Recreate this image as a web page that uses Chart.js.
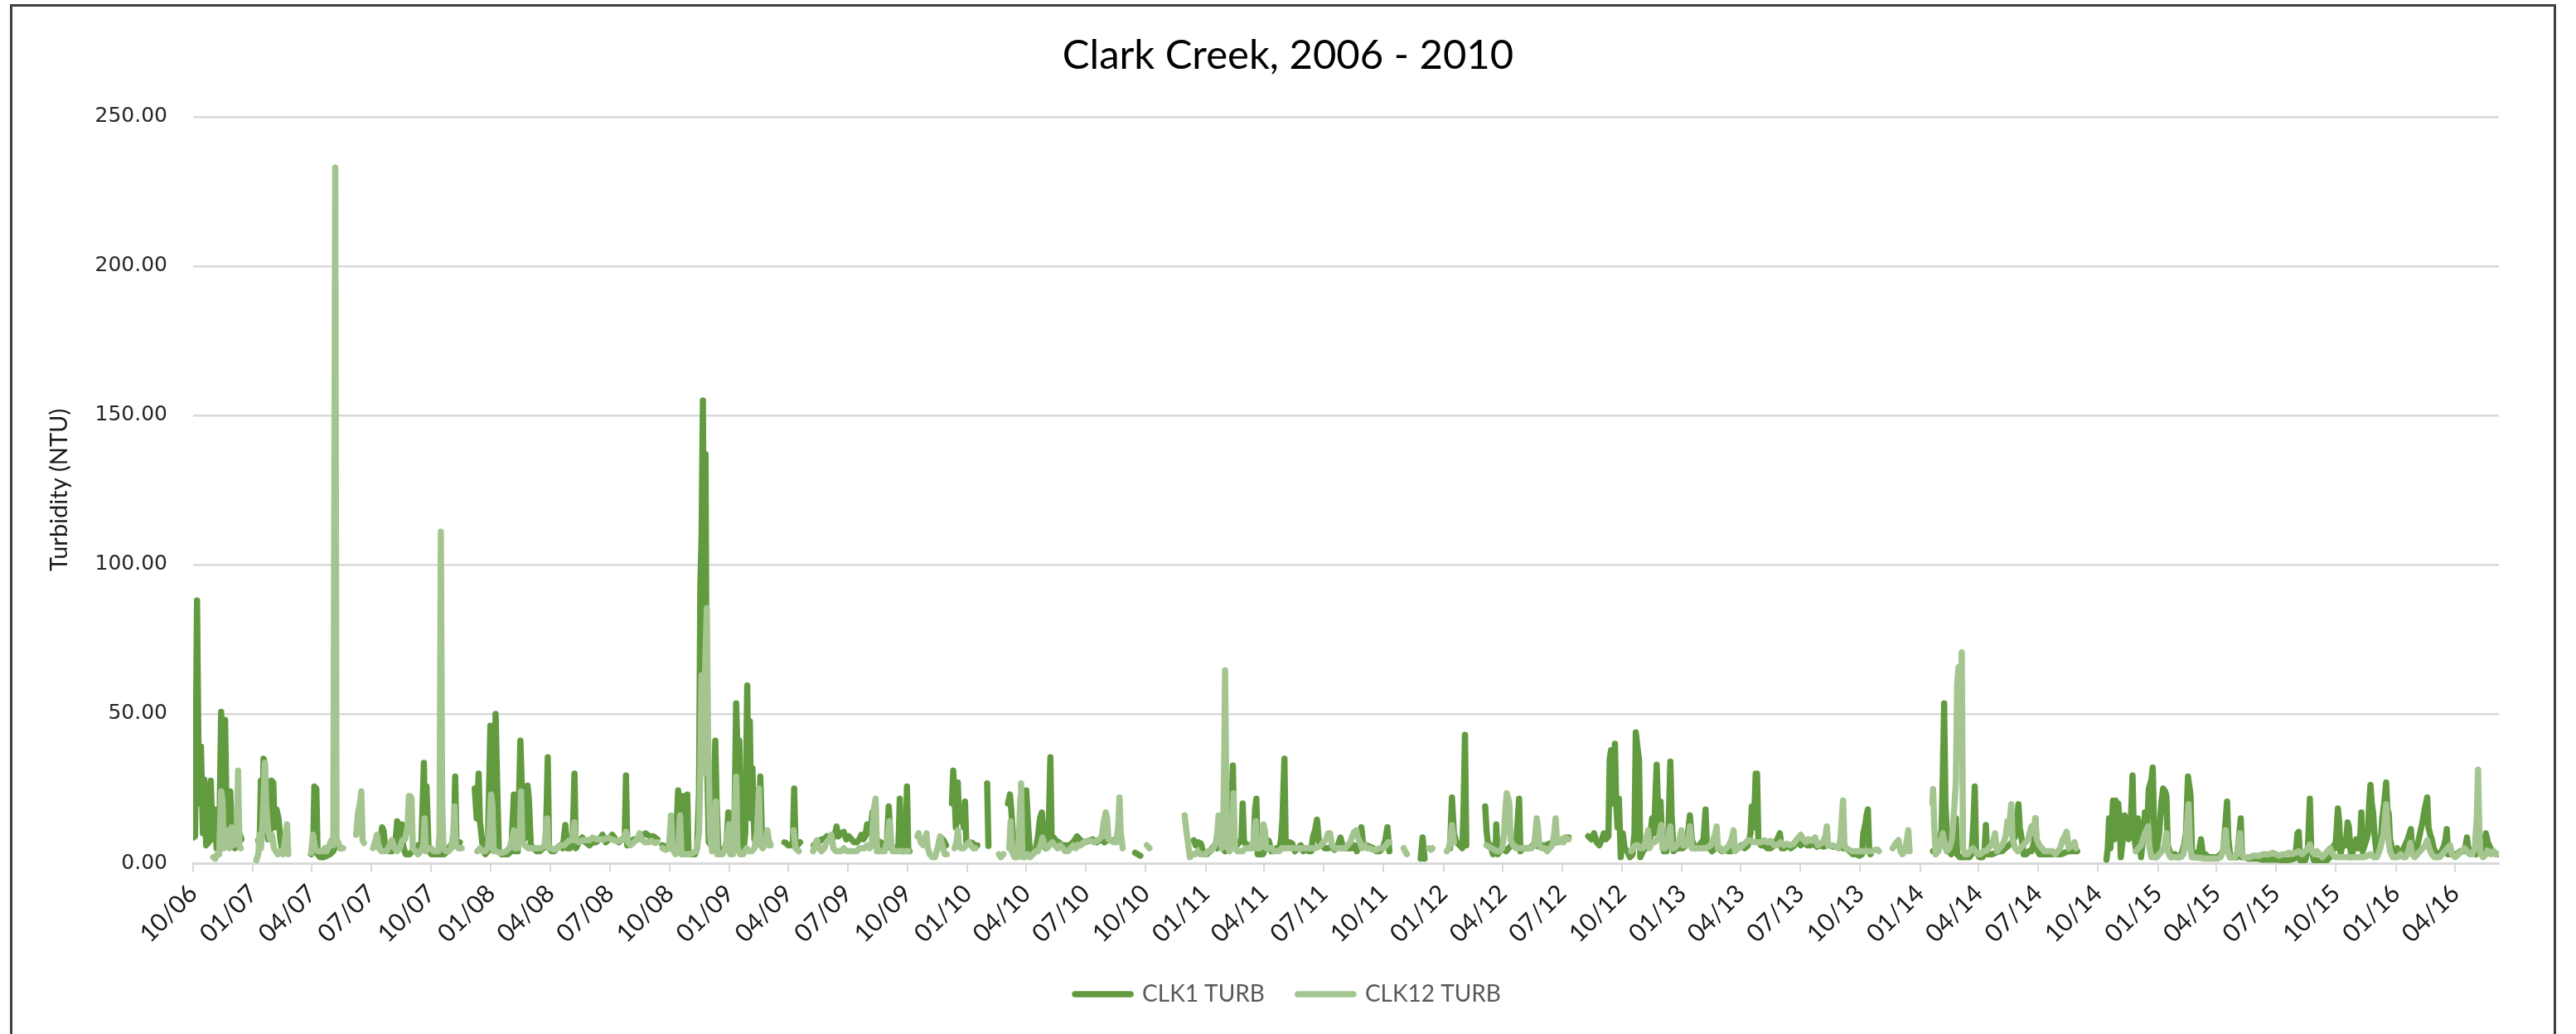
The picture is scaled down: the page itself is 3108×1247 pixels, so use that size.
<!DOCTYPE html>
<html>
<head>
<meta charset="utf-8">
<title>Clark Creek turbidity</title>
<script src="https://cdn.jsdelivr.net/npm/chart.js@4.4.1/dist/chart.umd.min.js"></script>
<style>
  html, body { margin: 0; padding: 0; background: #fff; overflow: hidden; }
  #wrap { position: relative; width: 3108px; height: 1247px; }
  #turbChart { display: block; }
  /* chart outline, bottom edge runs off the page like the screenshot */
  #frame { position: absolute; left: 12px; top: 5px; width: 3066px; height: 1300px; border: 3px solid #404040; pointer-events: none; }
</style>
</head>
<body>
<div id="wrap">
  <canvas id="turbChart" width="3108" height="1247"></canvas>
  <div id="frame"></div>
</div>
<script>
const START = Date.UTC(2006, 9, 1); // day 0 = 1 Oct 2006
const DAY = 86400000;

const chartTitle = 'Clark Creek, 2006 - 2010';
const yTitle = 'Turbidity (NTU)';
const seriesNames = ['CLK1 TURB', 'CLK12 TURB'];
const seriesColors = ['#629B3F', '#A4C590'];
const tickLabels = ['10/06', '01/07', '04/07', '07/07', '10/07', '01/08', '04/08', '07/08', '10/08',
  '01/09', '04/09', '07/09', '10/09', '01/10', '04/10', '07/10', '10/10', '01/11', '04/11', '07/11',
  '10/11', '01/12', '04/12', '07/12', '10/12', '01/13', '04/13', '07/13', '10/13', '01/14', '04/14',
  '07/14', '10/14', '01/15', '04/15', '07/15', '10/15', '01/16', '04/16'];
const yMax = 250;
const yStep = 50;

// [days since 1 Oct 2006, NTU], null = no readings (line breaks)
const clk1 = [
  [0,8.6],[3,9],[6,88],[9,20],[12,39],[15,10],[17,28],[20,6],[24,7],[27,27.6],[30,8],[33,18],[36,5],[40,6],
  [43,50.7],[46,10],[49,48],[52,8],[55,6],[57,24],[60,7],[64,5],[68,6],[71,10],[74,8],[78,null],
  [100,7.7],[102,6],[104,27.6],[106,10],[108,35],[110,33.6],[112,12],[115,8],[118,10],[120,27.6],[123,27],
  [125,12],[128,18],[131,15],[134,7.7],[136,5],[160,null],
  [181,3],[184,4],[186,25.7],[189,25],[191,3],[195,2],[200,2],[205,2.5],[210,3],[215,4],[219,6],[223,6],[226,5],[250,null],
  [284,6],[288,9],[290,12],[292,11],[295,5],[300,4],[305,4],[310,6],[313,14],[316,6],[320,13],[322,6],[326,3],
  [332,3],[336,4],[340,4],[345,6],[350,5],[354,33.6],[356,8],[358,25.7],[361,6],[365,3],[370,3],[375,3],[380,3],
  [385,3],[390,4],[395,6],[400,6],[402,29],[404,7],[407,6],[409,7],[420,null],
  [432,25],[435,15],[438,30],[440,14],[444,6],[448,3],[452,4],[456,46],[459,8],[462,10],[464,50],[467,20.6],
  [469,4],[473,3],[478,3],[483,3],[488,4],[492,23],[494,4],[498,4],[502,41],[505,20],[508,8],[511,10],[513,26],
  [515,21.6],[518,6],[522,5],[527,4],[532,4],[537,5],[541,6],[544,35.5],[546,5],[550,4],[554,4],[558,5],[563,6],
  [567,5],[571,12.8],[574,5],[578,5],[582,6],[585,30],[587,5],[592,7],[597,8.6],[602,7],[608,6],[613,7],[618,7],
  [623,8],[628,9.5],[633,7],[638,8],[643,9.5],[648,8],[653,7],[658,8],[662,8],[664,29.4],[666,6],[670,7],[676,8],
  [682,8],[688,9],[694,10],[700,9],[706,9],[712,8],[716,null],
  [720,6],[725,5.5],[730,5],[735,5],[740,4],[744,24.4],[747,5],[750,22.5],[752,3],[755,4],[758,23],[760,3],[765,3],
  [770,3],[773,5],[776,23.4],[778,92],[780,110],[782,155],[784,60],[786,137],[788,40],[791,7],[795,6],[798,10],
  [801,41],[803,20.6],[806,3],[810,4],[815,5],[818,6],[821,17],[823,4],[827,5],[830,8],[833,53.5],[836,30],[838,41],
  [840,4],[844,4],[847,10],[850,59.5],[852,20],[854,47.5],[856,15],[858,31.8],[861,8],[865,7],[868,10],[870,29],
  [873,7],[877,7],[881,8],[884,7],[895,null],
  [907,7],[909,6.8],[913,6],[917,6],[920,7],[922,25],[924,7],[927,6],[931,7],[940,null],
  [952,6],[956,7],[960,7],[964,8],[968,8],[972,9],[976,8],[980,8],[984,9],[987,12.3],[990,9],[994,10],[998,10.5],
  [1002,8],[1006,9],[1010,8],[1014,7],[1018,7],[1022,8],[1025,9.5],[1028,8],[1031,9],[1034,13],[1037,10],[1040,12],
  [1042,17],[1045,7],[1050,7.5],[1055,7],[1060,5],[1064,6],[1067,19],[1069,12],[1071,5],[1075,5],[1079,5],[1082,6],
  [1084,21.6],[1086,5],[1090,4],[1093,6],[1095,25.7],[1097,4],[1099,4],[1120,null],
  [1147,8.6],[1151,7.7],[1155,6],[1161,null],
  [1164,20],[1166,31],[1168,23],[1170,12],[1173,27],[1175,14],[1177,15],[1180,15],[1182,12],[1184,20.6],[1186,7],
  [1190,7],[1195,6.8],[1199,6],[1203,6],[1210,null],
  [1218,26.7],[1220,5.8],[1235,null],
  [1250,20],[1253,23],[1255,18],[1258,8],[1262,3],[1266,3],[1270,3],[1274,4],[1276,12],[1278,24.4],[1281,12],[1284,3],
  [1288,3],[1292,4],[1296,9],[1299,15],[1302,17],[1305,8],[1308,5],[1312,7],[1315,35.5],[1317,7],[1320,8.6],[1324,7.5],
  [1328,7],[1333,6],[1338,6],[1344,6],[1350,7],[1356,9],[1362,7.5],[1368,7],[1374,7.5],[1380,8],[1386,7],[1392,8],
  [1398,7],[1404,8],[1410,7.5],[1416,8],[1420,8],[1424,8],[1435,null],
  [1445,3.5],[1449,3],[1453,2.5],[1500,null],
  [1535,7.7],[1538,6],[1542,7],[1546,6.5],[1550,3],[1555,3],[1560,4],[1563,5],[1567,6],[1571,5],[1575,6],[1579,5],
  [1583,4],[1587,5],[1591,6],[1593,20],[1595,32.7],[1597,6],[1601,6],[1605,7],[1608,8],[1610,20],[1612,7],[1615,6.5],
  [1619,6],[1623,5],[1627,7],[1629,18],[1631,21.6],[1633,3],[1637,3],[1641,3],[1645,5],[1650,7.5],[1654,4],[1658,4],
  [1662,5],[1666,5],[1669,8],[1671,15],[1674,35],[1676,6],[1682,7],[1686,6.5],[1690,4],[1695,5],[1699,6],[1703,4],
  [1707,5],[1711,4],[1715,4],[1718,9],[1721,11],[1724,14.6],[1727,7],[1731,6],[1736,5],[1741,5],[1746,5.5],[1751,4.5],
  [1756,6],[1760,8.6],[1763,6],[1767,5],[1772,5],[1777,5],[1781,6],[1785,4],[1789,6],[1792,12],[1795,6],[1800,6],
  [1805,5.5],[1810,5],[1815,4],[1820,4],[1825,5],[1829,8],[1832,12],[1835,4],[1845,null],
  [1883,1.5],[1886,8.6],[1889,1.5],[1910,null],
  [1928,5],[1931,22],[1934,10],[1938,7],[1943,6],[1947,5],[1949,20],[1951,43],[1953,6],[1965,null],
  [1982,19],[1984,11],[1986,7],[1990,6],[1994,3],[1998,4],[1999,13],[2001,3],[2005,4],[2009,5],[2014,4],[2018,5],
  [2022,6],[2026,7],[2030,8],[2034,21.6],[2036,4],[2040,5],[2045,5],[2050,5],[2055,6],[2060,6],[2065,5.5],[2070,6],
  [2075,6],[2080,6.5],[2085,7],[2090,7],[2095,7.5],[2100,8],[2105,8.6],[2110,8.6],[2125,null],
  [2140,9],[2145,8],[2149,10],[2153,7],[2157,6],[2161,8],[2164,10],[2167,8],[2171,9],[2173,35],[2175,37.8],[2178,20],
  [2181,40],[2183,20],[2185,12],[2187,21.6],[2190,2],[2193,10],[2196,5],[2200,4],[2204,2],[2208,3],[2211,10],
  [2213,43.8],[2216,38],[2218,34.5],[2220,2],[2224,4],[2228,5],[2232,6],[2235,8],[2238,15],[2241,10],[2245,33],
  [2247,19.7],[2249,8],[2251,20.6],[2253,10],[2256,4],[2260,4],[2263,10],[2266,34],[2268,16],[2271,4],[2275,5],
  [2280,5],[2285,5],[2290,6],[2293,10],[2296,16],[2299,8],[2302,6],[2306,5],[2310,6],[2314,7],[2317,8],[2320,18],
  [2322,6],[2326,5],[2330,4],[2335,5],[2340,5],[2345,4],[2350,4.5],[2355,4],[2360,4],[2365,5],[2370,5],[2375,6],
  [2380,5],[2385,6],[2389,10],[2391,19],[2394,12],[2397,30],[2399,30],[2401,8],[2405,6],[2410,6],[2415,5],[2420,5],
  [2425,6],[2430,8],[2434,10],[2437,5],[2441,5],[2446,6],[2451,5],[2456,6],[2461,7],[2466,6],[2471,7],[2476,6],
  [2481,6],[2486,6.5],[2491,5.5],[2496,6],[2501,5.5],[2506,6],[2511,6],[2516,5.5],[2521,5.5],[2526,5.5],[2531,5],
  [2536,5],[2541,4],[2546,3],[2551,3],[2556,2.5],[2560,3],[2562,10],[2565,13],[2567,16],[2569,18],[2571,5],[2573,3],
  [2620,null],
  [2669,4],[2674,4],[2678,5],[2682,11],[2684,30],[2686,53.5],[2688,20],[2690,11],[2693,4],[2697,3],[2701,5],[2704,15],
  [2706,3],[2710,2],[2715,2],[2720,2],[2725,2],[2728,3],[2731,14],[2733,25.7],[2735,4],[2740,2],[2745,2],[2748,4],
  [2750,12.8],[2752,3],[2756,3],[2760,3],[2765,3.5],[2770,4],[2775,4],[2780,5],[2785,6],[2790,7],[2795,9],[2798,15],
  [2800,19.7],[2802,12],[2805,8],[2808,3],[2812,3],[2816,4],[2820,4],[2824,7],[2826,15],[2828,5],[2832,3],[2836,3],
  [2841,3],[2846,3],[2851,3],[2856,3],[2861,3],[2866,3],[2871,3.5],[2876,4],[2881,4],[2886,4],[2890,4],[2910,null],
  [2935,1.2],[2937,5],[2939,15],[2941,5],[2943,12],[2945,21],[2947,8],[2949,21],[2951,10],[2953,20],[2955,15],
  [2957,2],[2960,8],[2963,16],[2966,10],[2969,8],[2972,12],[2975,29.4],[2977,10],[2980,5],[2983,15],[2986,8],[2988,2],
  [2991,8],[2994,17],[2997,10],[3000,25],[3004,28],[3006,32],[3008,12],[3010,2],[3013,6],[3016,10],[3019,20],[3022,25],
  [3025,24],[3027,22.5],[3029,6],[3032,4],[3035,2],[3040,3],[3045,2],[3050,3],[3054,6],[3057,10],[3060,29],[3062,26],
  [3064,22.5],[3066,5],[3069,2],[3073,3],[3077,4],[3080,8],[3083,3],[3087,3],[3091,2],[3095,2],[3100,2],[3105,2],
  [3110,3],[3114,4],[3117,12],[3120,20.6],[3122,8],[3125,2],[3130,2],[3135,2],[3138,8],[3141,15],[3143,2],[3148,2],
  [3153,1.5],[3158,1.5],[3163,1.5],[3168,1.5],[3173,1.2],[3178,1.2],[3183,1.2],[3188,1.2],[3193,1.2],[3198,1.2],
  [3203,1],[3208,1],[3213,1],[3218,1.2],[3223,1.5],[3226,5],[3228,10],[3230,10.5],[3232,1],[3236,1],[3240,1],[3244,5],
  [3247,21.6],[3249,5],[3253,1],[3258,1],[3263,1],[3268,1],[3273,1],[3278,2],[3281,4],[3284,6],[3286,5],[3288,11],
  [3290,18.3],[3292,14],[3294,3],[3296,5],[3299,8],[3302,6],[3305,13.7],[3307,12],[3309,5],[3311,2],[3315,6],[3318,8],
  [3321,5],[3324,8],[3326,17],[3328,4],[3331,6],[3334,8],[3336,10],[3338,20],[3340,26.2],[3342,20],[3344,17],[3346,10],
  [3349,4],[3353,6],[3356,8],[3358,15],[3361,20],[3364,27],[3366,18],[3368,16.5],[3370,8],[3373,5],[3377,4],[3381,5],
  [3385,3],[3389,4],[3393,6],[3397,8],[3400,10],[3402,11.4],[3404,4],[3408,4],[3412,6],[3416,10],[3418,12],[3420,14],
  [3423,18],[3425,20],[3427,22],[3429,12],[3431,10],[3434,8],[3437,5],[3441,3],[3445,3],[3449,4],[3453,6],[3455,8],
  [3457,11.4],[3459,3],[3463,3],[3468,3],[3473,3],[3478,4],[3483,4],[3486,6],[3488,8.6],[3490,5],[3494,4],[3498,4],
  [3502,3],[3506,4],[3510,4],[3514,6],[3517,10],[3520,7],[3524,5],[3528,4],[3532,3],[3537,3]
];

const clk12 = [
  [31,2],[34,1.5],[37,3],[40,3],[43,24],[45,21],[47,5],[50,8],[53,11],[56,5],[59,12],[62,6],[65,9],[67,10],[69,31],
  [71,6],[73,5],[85,null],
  [97,1],[100,3],[102,9.5],[104,5],[107,15],[110,33.6],[112,20],[115,11],[118,8],[121,9.5],[124,5],[127,4],[130,3],
  [134,4],[138,3],[141,8],[144,13],[146,3],[160,null],
  [181,3.5],[184,9.5],[187,5],[191,4],[195,4],[199,4],[202,5],[205,4],[209,6],[212,7.7],[215,6],[217,150],[218,233],
  [220,8],[223,6.8],[226,5],[230,5],[240,null],
  [250,9.5],[253,17],[256,20],[258,24],[260,7.7],[262,6.8],[268,null],
  [276,5],[279,7],[282,9.5],[285,5],[289,4],[293,4],[297,4],[301,6],[305,7.7],[309,5],[313,4],[317,5],[321,7.7],
  [325,8],[329,12],[331,22.5],[333,22.5],[335,21.6],[337,5],[341,4],[345,3],[349,4],[353,6],[355,15],[357,4],[361,5],
  [365,5],[369,4],[373,4],[376,4],[378,10],[380,111],[382,20],[384,5],[388,4],[392,4],[396,5],[399,10],[401,19],
  [403,6],[407,5],[410,5],[412,5],[420,null],
  [436,4],[440,5],[444,4],[448,4],[452,5],[455,12],[457,23],[459,20],[461,4],[465,4],[470,3.5],[475,3.5],[480,4],
  [485,5],[489,7.7],[492,11],[494,5],[498,5],[501,8],[503,24],[505,7],[509,6],[514,5],[519,5],[524,5],[529,5],[534,5],
  [539,6],[543,15],[545,5],[549,5],[554,4.5],[559,5],[564,6],[569,6],[574,7],[578,7.7],[582,7.7],[585,13.7],[587,7.7],
  [592,7],[597,7.7],[603,7.7],[608,7.7],[613,8.6],[618,8],[624,8],[630,8],[636,8.5],[642,8],[648,7.5],[654,7.5],
  [659,8],[664,10.5],[667,7],[671,6],[676,7],[681,8],[685,10],[688,8],[693,7],[698,7],[703,7.5],[708,6.8],[712,7],
  [716,null],
  [720,5],[725,4.5],[730,5],[733,16],[735,5],[740,3],[744,5],[747,16],[749,3],[753,3],[757,3],[762,3],[767,3.5],
  [772,4],[776,10],[778,30],[780,63],[782,30],[784,50],[786,70],[788,85.5],[790,41],[793,10],[796,4],[800,10],
  [802,20.6],[804,3],[808,3],[812,3],[816,5],[820,10],[822,13],[824,3],[828,3],[833,29],[835,5],[839,3],[844,3],
  [849,5],[853,4],[857,4],[861,5],[865,10],[868,25],[870,6],[874,5],[878,7],[881,11],[884,6],[886,6],[900,null],
  [921,11],[924,5],[929,4],[940,null],
  [951,4],[954,6],[957,7.7],[960,5],[964,4],[968,5],[972,7],[976,8],[979,9.5],[982,5],[986,4],[990,4],[994,4],
  [998,5],[1002,4],[1006,4],[1010,4],[1014,4],[1018,4],[1022,5],[1026,5],[1030,5],[1034,6],[1038,5],[1041,6],
  [1044,18],[1047,21.6],[1049,4],[1053,4],[1057,4],[1061,4],[1065,8],[1068,14],[1070,8],[1073,4],[1077,4],[1081,4],
  [1085,4],[1089,4],[1093,4],[1097,4],[1105,null],
  [1111,9],[1113,10],[1116,7],[1120,6],[1123,8],[1125,10],[1127,5],[1130,3],[1134,2],[1138,2],[1142,5],[1146,9],
  [1149,6],[1153,3],[1156,3],[1162,null],
  [1168,5],[1171,7],[1173,11],[1175,6],[1178,5],[1182,5],[1186,6],[1190,7],[1193,6],[1197,5],[1200,5],[1220,null],
  [1236,3],[1239,2],[1243,3],[1247,null],
  [1252,5],[1254,14],[1256,4],[1260,2],[1264,2],[1267,10],[1269,22],[1270,26.7],[1272,2],[1276,2],[1280,3],[1284,2],
  [1288,3],[1292,4],[1296,4],[1300,6],[1303,8.6],[1306,6],[1310,5],[1314,6],[1318,7],[1322,6],[1326,5],[1330,6],
  [1334,5],[1338,4],[1342,4],[1346,5],[1350,6],[1354,5],[1358,6],[1362,6],[1366,7],[1370,7],[1374,7.5],[1378,7.5],
  [1382,7],[1386,7.5],[1390,8],[1394,9],[1397,14],[1400,17],[1402,15],[1404,8],[1408,7.5],[1412,7],[1416,7],
  [1419,12],[1421,22],[1423,10],[1426,5],[1440,null],
  [1463,6],[1467,5],[1500,null],
  [1521,16],[1524,10],[1526,7],[1529,2],[1533,3],[1537,3],[1541,4],[1545,3],[1549,3],[1553,3],[1557,4],[1561,4],
  [1565,5],[1569,7],[1571,10],[1573,16],[1575,8],[1578,5],[1580,10],[1582,40],[1583,64.6],[1585,20],[1587,5],[1590,4],
  [1593,6],[1595,16],[1596,23.4],[1598,5],[1602,4],[1606,4],[1610,4],[1614,5],[1618,5],[1622,5],[1626,7],[1628,10],
  [1630,14],[1632,5],[1636,5],[1640,6],[1642,13],[1644,11],[1646,5],[1650,5],[1654,5],[1658,4],[1662,4],[1666,4],
  [1670,5],[1674,5],[1678,5],[1682,5],[1686,5],[1690,5],[1694,5],[1698,5],[1702,5],[1706,5],[1710,5],[1714,5],
  [1718,5],[1722,5],[1726,5.5],[1730,6],[1734,7],[1738,8],[1741,10],[1744,10],[1747,6],[1751,5],[1755,5],[1759,5],
  [1763,5],[1767,5],[1771,6],[1775,7],[1778,9],[1781,10.5],[1784,11],[1786,9],[1790,7],[1793,5],[1797,6],[1801,5],
  [1805,5],[1810,4.5],[1815,4.5],[1820,5],[1825,5],[1830,6],[1833,7],[1835,7],[1845,null],
  [1857,5],[1859,4],[1862,3],[1880,null],
  [1896,5],[1899,4.5],[1901,5],[1912,null],
  [1923,4],[1926,5],[1929,8],[1931,12.8],[1934,7],[1960,null],
  [1984,6],[1988,5.5],[1992,5],[1996,4.5],[2000,4],[2004,4],[2008,5],[2011,10],[2013,18],[2015,23.4],[2017,22],
  [2019,20],[2021,7.7],[2025,6],[2029,5],[2033,5],[2037,5],[2041,5],[2045,5],[2049,5],[2053,5],[2057,6],[2059,10],
  [2061,15],[2063,12],[2065,6],[2069,5],[2073,5],[2077,4],[2081,5],[2085,6],[2088,10],[2090,15],[2092,8],[2095,7],
  [2099,8],[2102,7],[2105,8.6],[2108,8],[2110,8],[2150,null],
  [2206,4],[2212,6],[2216,6],[2220,5],[2224,5],[2228,7],[2232,11],[2234,5],[2238,7],[2242,7],[2246,8],[2250,10],
  [2252,12.8],[2254,5],[2258,5],[2262,8],[2266,12.3],[2268,5],[2272,5],[2276,6],[2280,8],[2283,11],[2286,6],[2290,6],
  [2294,8],[2296,12.3],[2299,5],[2303,5],[2308,5],[2312,5],[2316,5],[2320,5],[2324,5.5],[2328,6],[2332,8],[2335,10],
  [2337,12.3],[2339,5],[2343,5],[2347,4],[2352,5],[2356,6],[2360,8],[2363,11],[2365,4],[2370,5],[2375,5.5],[2380,6.5],
  [2385,7.7],[2390,7.5],[2395,7],[2400,7],[2405,7],[2410,7.7],[2415,7],[2420,7.5],[2425,6],[2430,6],[2435,7],[2440,6],
  [2445,6.5],[2450,6],[2455,6.5],[2460,8],[2464,9],[2466,9.5],[2470,8],[2474,7],[2478,8],[2483,7.5],[2488,8.6],
  [2492,6],[2496,6.5],[2500,7],[2504,9],[2506,12.3],[2508,6],[2512,6],[2516,6],[2520,5.5],[2524,5],[2527,8],[2529,15],
  [2531,21],[2533,6],[2536,5],[2540,4.5],[2545,4],[2550,4],[2555,4],[2560,4],[2565,4],[2570,4],[2575,4],[2580,4.5],
  [2584,4.5],[2586,4],[2600,null],
  [2607,5],[2610,6],[2613,7],[2616,7.7],[2619,4],[2622,3],[2626,4],[2629,8],[2631,11],[2633,4],[2650,null],
  [2668,20],[2669,24.8],[2671,12],[2673,3],[2677,4],[2681,7],[2684,10],[2687,6],[2690,4],[2694,5],[2698,8],[2702,20],
  [2704,27],[2706,60],[2708,65.6],[2711,50],[2713,70.6],[2715,5],[2718,3],[2722,3],[2726,4],[2730,5],[2734,4],
  [2738,3],[2742,3],[2746,4],[2750,4],[2754,5],[2758,6],[2762,8],[2764,10],[2767,4],[2771,5],[2775,6],[2779,8],
  [2781,10],[2783,14],[2785,10],[2787,15],[2789,19.7],[2791,8],[2795,5],[2799,4],[2803,5],[2807,6],[2811,7],[2815,8],
  [2818,11],[2820,12.3],[2822,10],[2824,12],[2826,15],[2828,8],[2832,6],[2836,5],[2840,4],[2844,4],[2848,4],[2852,4],
  [2856,3],[2860,4],[2864,5],[2868,8],[2871,9],[2874,10.5],[2877,5],[2881,6],[2884,6],[2886,7],[2888,5],[2920,null],
  [2980,4],[2984,5],[2988,6],[2991,8],[2994,10],[2996,11],[2999,12.3],[3001,5],[3004,2],[3008,2],[3012,2],[3016,3],
  [3020,4],[3024,6],[3027,10],[3029,4],[3033,2],[3037,2],[3041,2],[3045,2],[3049,2],[3053,3],[3057,8],[3059,14],
  [3061,19.7],[3063,6],[3066,2],[3070,2],[3075,1.8],[3080,1.8],[3085,1.5],[3090,1.5],[3095,1.5],[3100,1.5],[3105,1.5],
  [3110,2],[3114,4],[3116,8],[3118,11],[3120,5],[3124,2],[3128,2],[3132,2],[3136,4],[3138,7],[3140,10],[3142,3],
  [3146,2],[3150,2],[3155,2],[3160,2.5],[3165,2.5],[3170,2.5],[3175,3],[3180,3],[3185,3],[3190,3.5],[3195,3],[3200,2.5],
  [3205,3],[3210,3],[3215,3.5],[3220,3],[3225,3.5],[3230,4],[3235,3],[3240,4],[3244,5],[3247,6.3],[3250,4],[3254,3],
  [3258,4],[3262,3],[3266,2],[3270,3],[3274,4],[3278,5],[3282,3],[3286,2],[3290,2],[3294,2],[3298,2],[3302,2],
  [3306,2],[3310,2],[3314,2],[3318,2],[3322,2],[3326,2],[3330,2],[3335,2.5],[3340,3],[3345,2],[3350,2],[3355,5],
  [3358,8],[3360,9.5],[3362,15],[3364,19.7],[3366,12],[3368,7],[3370,4],[3374,2],[3378,2],[3382,2],[3386,3],[3390,2],
  [3394,2],[3398,4],[3401,6.8],[3404,3],[3408,2],[3412,3],[3416,4],[3420,5],[3424,6],[3427,7.7],[3430,5],[3434,3],
  [3438,2],[3442,2],[3446,2],[3450,3],[3454,4],[3458,5],[3462,6],[3465,3],[3470,2],[3475,3],[3480,4],[3484,5],
  [3488,4],[3492,3],[3496,3],[3500,5],[3503,15],[3505,31.3],[3507,10],[3509,3],[3513,2],[3517,3],[3521,4],[3525,3],
  [3529,4],[3533,3]
];

// quarter ticks sit on the first day of the month named in the label
const dayOf = (label) => {
  const [mm, yy] = label.split('/').map(Number);
  return (Date.UTC(2000 + yy, mm - 1, 1) - START) / DAY;
};
const tickDays = tickLabels.map(dayOf);
const lastDay = Math.max(clk1[clk1.length - 1][0], clk12[clk12.length - 1][0]);

const SANS = "Lato, 'Open Sans', sans-serif";
const LINE_W = 7.5;

new Chart(document.getElementById('turbChart'), {
  type: 'line',
  data: {
    datasets: [
      { label: seriesNames[0], data: clk1, borderColor: seriesColors[0], backgroundColor: seriesColors[0], order: 1 },
      { label: seriesNames[1], data: clk12, borderColor: seriesColors[1], backgroundColor: seriesColors[1], order: 0 }
    ]
  },
  options: {
    responsive: false,
    animation: false,
    events: [],
    spanGaps: false,
    layout: { padding: { top: 0, left: 0, right: 0, bottom: 24 } },
    elements: {
      line: { borderWidth: LINE_W, tension: 0, borderCapStyle: 'round', borderJoinStyle: 'round', fill: false },
      point: { radius: 0 }
    },
    scales: {
      x: {
        type: 'linear',
        min: 0,
        max: lastDay,
        afterBuildTicks: (scale) => { scale.ticks = tickDays.map(v => ({ value: v })); },
        afterFit: (scale) => { scale.height = 104; },
        ticks: {
          autoSkip: false,
          minRotation: 45,
          maxRotation: 45,
          padding: 8,
          color: '#1a1a1a',
          font: { family: SANS, size: 30 },
          callback: (v, i) => tickLabels[i]
        },
        grid: { drawOnChartArea: false, drawTicks: true, tickLength: 11, color: '#d9d9d9', lineWidth: 2 },
        border: { color: '#d9d9d9', width: 3 }
      },
      y: {
        min: 0,
        max: yMax,
        afterFit: (scale) => { scale.width = 233; },
        ticks: {
          stepSize: yStep,
          padding: 31,
          color: '#262626',
          font: { family: "'DejaVu Sans', sans-serif", size: 25 },
          callback: (v) => v.toFixed(2)
        },
        grid: { color: '#d9d9d9', lineWidth: 2.5, drawTicks: false },
        border: { display: false },
        title: {
          display: true,
          text: yTitle,
          color: '#1a1a1a',
          font: { family: SANS, size: 29 },
          padding: { top: 54, bottom: 0 }
        }
      },
      yRight: {
        type: 'linear',
        position: 'right',
        afterFit: (scale) => { scale.width = 93; },
        grid: { display: false },
        ticks: { display: false },
        border: { display: false }
      }
    },
    plugins: {
      title: {
        display: true,
        text: chartTitle,
        color: '#000',
        font: { family: SANS, size: 49, weight: 'normal', lineHeight: 1.2 },
        padding: { top: 38, bottom: 44 }
      },
      legend: {
        position: 'bottom',
        labels: {
          usePointStyle: true,
          pointStyle: 'line',
          pointStyleWidth: 67,
          padding: 40,
          color: '#595959',
          font: { family: SANS, size: 28 },
          sort: (a, b) => a.datasetIndex - b.datasetIndex,
          // legend swatch = thick round-capped stroke in the series colour
          generateLabels: (chart) => Chart.defaults.plugins.legend.labels.generateLabels(chart).map(item => ({
            ...item,
            strokeStyle: seriesColors[item.datasetIndex],
            fillStyle: seriesColors[item.datasetIndex],
            lineWidth: LINE_W,
            lineCap: 'round'
          }))
        }
      },
      tooltip: { enabled: false }
    }
  }
});
</script>
</body>
</html>
